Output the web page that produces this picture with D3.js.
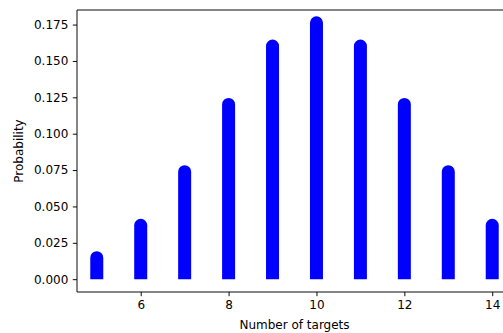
<!DOCTYPE html>
<html>
<head>
<meta charset="utf-8">
<script src="https://cdn.jsdelivr.net/npm/d3@7"></script>
<style>
  html, body { margin: 0; padding: 0; background: #fff; }
  svg { display: block; }
  text { font-family: "DejaVu Sans", sans-serif; fill: #000; }
</style>
</head>
<body>
<svg id="chart" width="503" height="333"></svg>
<script>
// Number of targets hit and the probability of each count
const targets = [5, 6, 7, 8, 9, 10, 11, 12, 13, 14];
const probabilities = [0.0148, 0.0370, 0.0739, 0.1201, 0.1602, 0.1762, 0.1602, 0.1201, 0.0739, 0.0370];
const xTicks = [6, 8, 10, 12, 14];
const yTicks = [0.000, 0.025, 0.050, 0.075, 0.100, 0.125, 0.150, 0.175];

const svg = d3.select("#chart");
const plotLeft = 77, plotRight = 512, plotTop = 10, plotBottom = 292;

const x = d3.scaleLinear().domain([4.55, 14.45]).range([plotLeft, plotRight]);
const y = d3.scaleLinear().domain([-0.00881, 0.18502]).range([plotBottom, plotTop]);

// thick stems with a rounded top
const r = 6.5;
svg.append("g").selectAll("path")
  .data(targets.map((t, i) => ({ t, p: probabilities[i] })))
  .join("path")
  .attr("fill", "#0000ff")
  .attr("d", d => {
    const cx = x(d.t), y0 = y(0), y1 = y(d.p);
    return `M${cx - r},${y0} L${cx - r},${y1} A${r},${r} 0 0 1 ${cx + r},${y1} L${cx + r},${y0} Z`;
  });

const xAxis = d3.axisBottom(x).tickValues(xTicks).tickFormat(d3.format("d"))
  .tickSizeInner(4.2).tickSizeOuter(0).tickPadding(4.5);
const gx = svg.append("g").attr("transform", `translate(0,${plotBottom})`).call(xAxis);

const yAxis = d3.axisLeft(y).tickValues(yTicks).tickFormat(d3.format(".3f"))
  .tickSizeInner(4.2).tickSizeOuter(0).tickPadding(4.5);
const gy = svg.append("g").attr("transform", `translate(${plotLeft},0)`).call(yAxis);

[gx, gy].forEach(g => {
  g.selectAll("text").style("font-size", "12px").style("font-family", "DejaVu Sans");
  g.selectAll("line").attr("stroke", "#000").attr("stroke-width", 0.96);
  g.select(".domain").remove();
});

// frame
svg.append("line").attr("x1", plotLeft).attr("x2", plotLeft).attr("y1", plotTop).attr("y2", plotBottom)
  .attr("stroke", "#000").attr("stroke-width", 0.96);
svg.append("line").attr("x1", plotLeft).attr("x2", plotRight).attr("y1", plotBottom).attr("y2", plotBottom)
  .attr("stroke", "#000").attr("stroke-width", 0.96);
svg.append("line").attr("x1", plotLeft).attr("x2", plotRight).attr("y1", plotTop).attr("y2", plotTop)
  .attr("stroke", "#000").attr("stroke-width", 0.96);

svg.append("text")
  .attr("x", (plotLeft + plotRight) / 2).attr("y", 329)
  .attr("text-anchor", "middle").style("font-size", "12px")
  .text("Number of targets");

svg.append("text")
  .attr("transform", `translate(23,${(plotTop + plotBottom) / 2}) rotate(-90)`)
  .attr("text-anchor", "middle").style("font-size", "12px")
  .text("Probability");
</script>
</body>
</html>
